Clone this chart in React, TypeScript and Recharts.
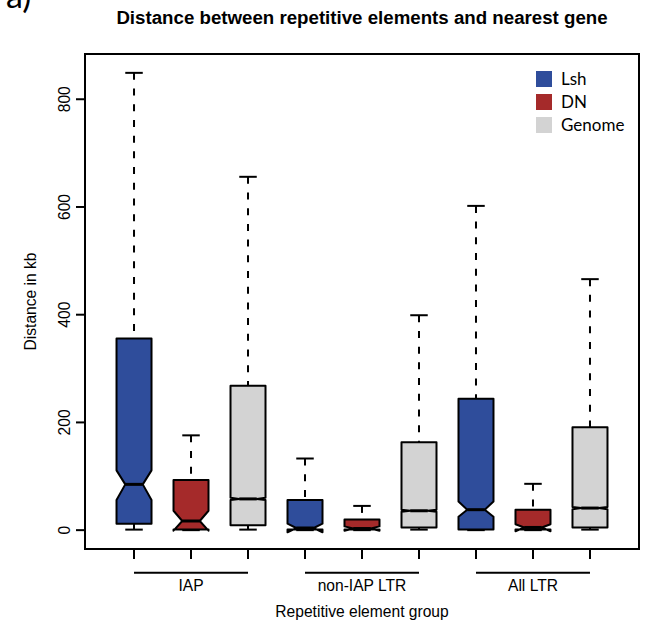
import {
  ComposedChart,
  Bar,
  XAxis,
  YAxis,
  ReferenceArea,
  ReferenceLine,
  Legend,
} from 'recharts'

const groups = ['IAP', 'non-IAP LTR', 'All LTR']
const seriesNames = ['Lsh', 'DN', 'Genome']
const seriesColors = ['#2f4d9b', '#a52a2a', '#d3d3d3']
const yTicks = [0, 200, 400, 600, 800]

// distance in kb, one value per group (IAP, non-IAP LTR, All LTR)
const lshLow = [1, 0, 0]
const lshQ1 = [12, 1, 1]
const lshMedian = [85, 4, 38]
const lshQ3 = [356, 56, 244]
const lshHigh = [849, 133, 602]
const lshNotchLo = [56, -4, 25]
const lshNotchHi = [111, 12, 53]

const dnLow = [0, 0, 0]
const dnQ1 = [1, 1, 1]
const dnMedian = [17, 3, 5]
const dnQ3 = [93, 20, 38]
const dnHigh = [176, 45, 86]
const dnNotchLo = [-1, -1, -2]
const dnNotchHi = [36, 7, 11]

const genomeLow = [1, 1, 1]
const genomeQ1 = [9, 5, 5]
const genomeMedian = [58, 36, 41]
const genomeQ3 = [268, 163, 191]
const genomeHigh = [656, 399, 466]
const genomeNotchLo = [56, 34, 39]
const genomeNotchHi = [60, 38, 43]

const X_DOMAIN = [0.14, 9.86]
const Y_DOMAIN = [-35, 884]
const GROUP_LINE_Y = -79
const FONT = '"Liberation Sans", Arial, sans-serif'

const lows = [lshLow, dnLow, genomeLow]
const q1s = [lshQ1, dnQ1, genomeQ1]
const medians = [lshMedian, dnMedian, genomeMedian]
const q3s = [lshQ3, dnQ3, genomeQ3]
const highs = [lshHigh, dnHigh, genomeHigh]
const notchLos = [lshNotchLo, dnNotchLo, genomeNotchLo]
const notchHis = [lshNotchHi, dnNotchHi, genomeNotchHi]

const rows = groups.flatMap((_, gi) =>
  seriesNames.map((_, si) => ({
    pos: gi * 3 + si + 1,
    series: si,
    low: lows[si][gi],
    q1: q1s[si][gi],
    median: medians[si][gi],
    q3: q3s[si][gi],
    high: highs[si][gi],
    notchLo: notchLos[si][gi],
    notchHi: notchHis[si][gi],
    range: [lows[si][gi], highs[si][gi]],
  }))
)

function BoxShape(props: any) {
  const { x, y, width, height, payload } = props
  if (!payload || !height) return null
  const d = payload
  // bar spans low..high, so map the other stats along it
  const k = height / (d.high - d.low)
  const py = (v: number) => y + (d.high - v) * k
  const cx = x + width / 2
  const hw = width / 2
  const nf = hw * 0.5
  const pts = [
    [cx - hw, py(d.q1)],
    [cx + hw, py(d.q1)],
    [cx + hw, py(d.notchLo)],
    [cx + nf, py(d.median)],
    [cx + hw, py(d.notchHi)],
    [cx + hw, py(d.q3)],
    [cx - hw, py(d.q3)],
    [cx - hw, py(d.notchHi)],
    [cx - nf, py(d.median)],
    [cx - hw, py(d.notchLo)],
  ]
    .map((p) => p.join(','))
    .join(' ')
  return (
    <g>
      <line x1={cx} x2={cx} y1={py(d.high)} y2={py(d.q3)} stroke="#000" strokeWidth={2} strokeDasharray="7 8.7" />
      <line x1={cx} x2={cx} y1={py(d.low)} y2={py(d.q1)} stroke="#000" strokeWidth={2} strokeDasharray="7 8.7" />
      <line x1={cx - nf} x2={cx + nf} y1={py(d.high)} y2={py(d.high)} stroke="#000" strokeWidth={2} />
      <line x1={cx - nf} x2={cx + nf} y1={py(d.low)} y2={py(d.low)} stroke="#000" strokeWidth={2} />
      <polygon points={pts} fill={seriesColors[d.series]} stroke="#000" strokeWidth={2} strokeLinejoin="round" />
      <line x1={cx - nf} x2={cx + nf} y1={py(d.median)} y2={py(d.median)} stroke="#000" strokeWidth={3} />
    </g>
  )
}

function YTick(props: any) {
  const { x, y, payload } = props
  return (
    <text
      x={x}
      y={y}
      transform={`rotate(-90, ${x}, ${y})`}
      textAnchor="middle"
      fontSize={15.6}
      fontFamily={FONT}
      fill="#000"
    >
      {payload.value}
    </text>
  )
}

function LegendBox() {
  return (
    <div style={{ fontFamily: 'Lato, sans-serif', fontSize: 17, color: '#000' }}>
      {seriesNames.map((name, i) => (
        <div key={name} style={{ display: 'flex', alignItems: 'center', height: 23 }}>
          <span style={{ width: 16, height: 16, background: seriesColors[i], marginRight: 9 }} />
          <span>{name}</span>
        </div>
      ))}
    </div>
  )
}

export default function App() {
  return (
    <div style={{ position: 'absolute', left: 0, top: 0, width: 646, height: 633, background: '#fff' }}>
      <ComposedChart
        width={646}
        height={633}
        data={rows}
        margin={{ top: 54, right: 7, bottom: 0, left: 0 }}
      >
        <XAxis
          dataKey="pos"
          type="number"
          domain={X_DOMAIN}
          ticks={rows.map((r) => r.pos)}
          tickFormatter={() => ''}
          axisLine={false}
          tickSize={10}
          tickLine={{ stroke: '#000', strokeWidth: 2 }}
          height={20}
          allowDataOverflow
        />
        <XAxis
          xAxisId="grp"
          dataKey="pos"
          type="number"
          domain={X_DOMAIN}
          ticks={[2, 5, 8]}
          tickFormatter={(v: number) => groups[(v - 2) / 3]}
          axisLine={false}
          tickLine={false}
          tickSize={0}
          tickMargin={10.5}
          height={64}
          tick={{ fill: '#000', fontSize: 15.6, fontFamily: FONT }}
          label={{
            value: 'Repetitive element group',
            position: 'insideBottom',
            offset: 16,
            style: { fill: '#000', fontSize: 15.6, fontFamily: FONT },
          }}
          allowDataOverflow
        />
        <YAxis
          type="number"
          domain={Y_DOMAIN}
          ticks={yTicks}
          width={85}
          axisLine={false}
          tickSize={9}
          tickMargin={5.5}
          tickLine={{ stroke: '#000', strokeWidth: 2 }}
          tick={<YTick />}
          label={{
            value: 'Distance in kb',
            angle: -90,
            position: 'insideLeft',
            offset: 30,
            style: { fill: '#000', fontSize: 15.6, fontFamily: FONT, textAnchor: 'middle' },
          }}
          allowDataOverflow
        />
        <Bar dataKey="range" barSize={35} shape={<BoxShape />} isAnimationActive={false} />
        <ReferenceArea
          x1={X_DOMAIN[0]}
          x2={X_DOMAIN[1]}
          y1={Y_DOMAIN[0]}
          y2={Y_DOMAIN[1]}
          fill="none"
          fillOpacity={0}
          stroke="#000"
          strokeWidth={2}
          ifOverflow="visible"
        />
        {groups.map((g, gi) => (
          <ReferenceLine
            key={g}
            segment={[
              { x: gi * 3 + 1, y: GROUP_LINE_Y },
              { x: gi * 3 + 3, y: GROUP_LINE_Y },
            ]}
            stroke="#000"
            strokeWidth={2}
            ifOverflow="visible"
          />
        ))}
        <Legend
          layout="vertical"
          align="center"
          verticalAlign="middle"
          wrapperStyle={{ top: 67, left: 536, width: 100 }}
          content={() => <LegendBox />}
        />
      </ComposedChart>
      <svg
        width={646}
        height={60}
        style={{ position: 'absolute', left: 0, top: 0, pointerEvents: 'none' }}
      >
        <text x={6} y={8} fontSize={34} fontFamily="Lato, sans-serif" fill="#000">
          a)
        </text>
        <text
          x={362}
          y={24}
          textAnchor="middle"
          fontSize={18.7}
          fontWeight="bold"
          fontFamily={FONT}
          fill="#000"
        >
          Distance between repetitive elements and nearest gene
        </text>
      </svg>
    </div>
  )
}
